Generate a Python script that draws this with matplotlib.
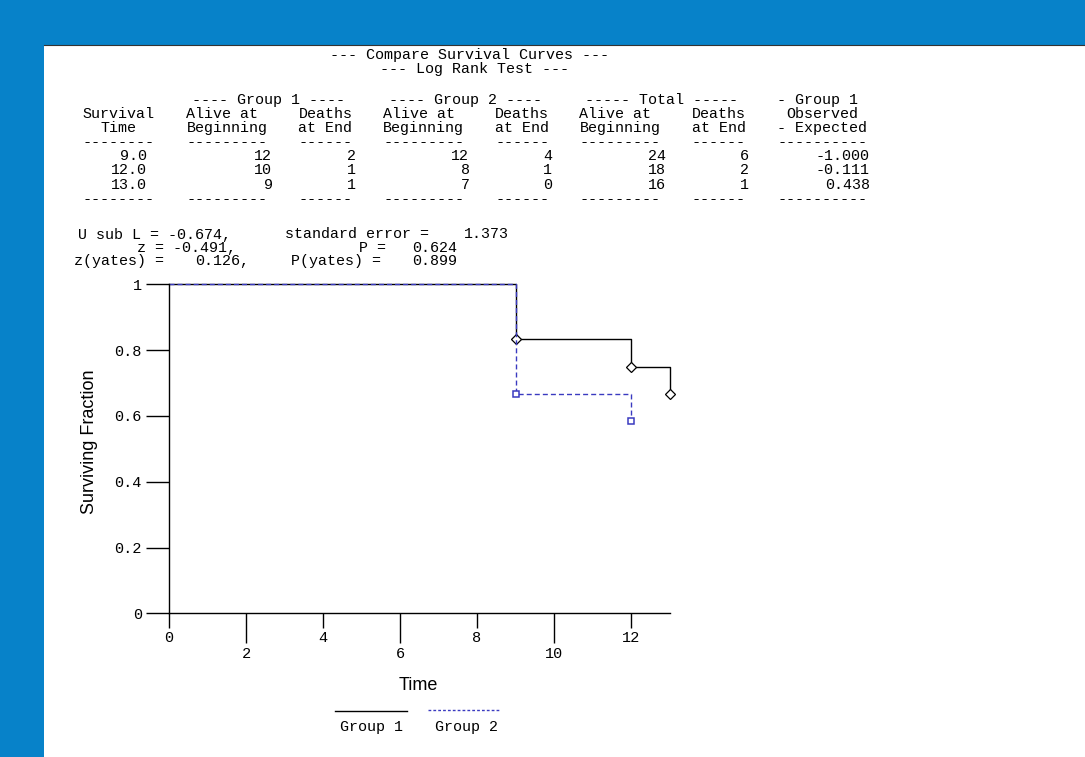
import re
import matplotlib
matplotlib.use("Agg")
import matplotlib.pyplot as plt
from matplotlib.patches import Rectangle
from matplotlib.lines import Line2D

# ---- data ----
surv_time = [9.0, 12.0, 13.0]
alive_g1 = [12, 10, 9]
deaths_g1 = [2, 1, 1]
alive_g2 = [12, 8, 7]
deaths_g2 = [4, 1, 0]
alive_tot = [24, 18, 16]
deaths_tot = [6, 2, 1]
obs_minus_exp = [-1.000, -0.111, 0.438]

u_sub_l = -0.674
std_err = 1.373
z_val = -0.491
p_val = 0.624
z_yates = 0.126
p_yates = 0.899

g1_time = [0, 9, 12, 13]
g1_surv = [1.0, 0.833, 0.750, 0.667]
g2_time = [0, 9, 12]
g2_surv = [1.0, 0.667, 0.583]

group_names = ["Group 1", "Group 2"]
x_major = [0, 4, 8, 12]
x_minor = [2, 6, 10]
y_ticks = [0, 0.2, 0.4, 0.6, 0.8, 1]
y_labels = ["0", "0.2", "0.4", "0.6", "0.8", "1"]

W, H = 1085, 757
BLUE_BG = "#0782c9"
G2_COLOR = "#3a3ac0"
MONO = "Liberation Mono"
MONO_SIZE = 10.8
CW = 10.35  # pixel width of one character cell in the printout

fig = plt.figure(figsize=(W / 100, H / 100), dpi=100)
fig.patch.set_facecolor(BLUE_BG)
fig.add_artist(Rectangle((44 / W, 0), 1 - 44 / W, 1 - 45 / H,
                         transform=fig.transFigure, facecolor="white",
                         edgecolor="none", zorder=0))
fig.add_artist(Line2D([44 / W, 1], [1 - 45 / H] * 2, transform=fig.transFigure,
                      color="#333333", lw=0.8, zorder=1))


def put(line, x0, y):
    # phrases (split on 2+ spaces) are centred on their cells of the printout grid
    for m in re.finditer(r"\S+(?: \S+)*", line):
        xc = x0 + (m.start() + len(m.group()) / 2) * CW
        fig.text(xc / W, 1 - y / H, m.group(), ha="center", va="baseline",
                 family=MONO, fontsize=MONO_SIZE, color="black")


# ---- text output above the plot ----
X0 = 77
put("--- Compare Survival Curves ---", 470 - 15.5 * CW, 59.5)
put("--- Log Rank Test ---", 475 - 10.5 * CW, 72.5)

dash = "--------  ---------  ------  ---------  ------  ---------  ------  ----------"
lines = [
    "          ---- Group 1 ----  ---- Group 2 ----  ----- Total -----  - Group 1",
    "Survival  Alive at   Deaths  Alive at   Deaths  Alive at   Deaths   Observed",
    "  Time    Beginning  at End  Beginning  at End  Beginning  at End  - Expected",
    dash,
]
for i in range(len(surv_time)):
    lines.append(f"{surv_time[i]:7.1f}   {alive_g1[i]:9d}  {deaths_g1[i]:6d}  "
                 f"{alive_g2[i]:9d}  {deaths_g2[i]:6d}  {alive_tot[i]:9d}  "
                 f"{deaths_tot[i]:6d}  {obs_minus_exp[i]:10.3f}")
lines.append(dash)
for i, ln in enumerate(lines):
    put(ln, X0, 104 + 14.1 * i)

stats = [
    f"U sub L = {u_sub_l:.3f},   standard error =  {std_err:.3f}",
    f"      z = {z_val:.3f},           P =  {p_val:.3f}",
    f"z(yates) =  {z_yates:.3f},   P(yates) =  {p_yates:.3f}",
]
for i, ln in enumerate(stats):
    put(ln, 67, 238.5 + 13.2 * i)

# ---- survival plot ----
ax = fig.add_axes([169 / W, (H - 613.3) / H, 500.5 / W, 329 / H])
ax.set_facecolor("none")
ax.step(g1_time, g1_surv, where="post", color="black", lw=1.0, clip_on=False)
ax.plot(g1_time[1:], g1_surv[1:], ls="none", marker="D", ms=4.6, mfc="white",
        mec="black", mew=0.9, clip_on=False)
ax.step(g2_time, g2_surv, where="post", color=G2_COLOR, lw=1.0,
        dashes=(3.6, 2.2), clip_on=False)
ax.plot(g2_time[1:], g2_surv[1:], ls="none", marker="s", ms=5, mfc="white",
        mec=G2_COLOR, mew=1.1, clip_on=False)

ax.set_xlim(0, 13)
ax.set_ylim(0, 1)
for s in ("top", "right"):
    ax.spines[s].set_visible(False)
for s in ("left", "bottom"):
    ax.spines[s].set_linewidth(1.0)

ax.set_xticks(x_major)
ax.set_xticks(x_minor, minor=True)
ax.set_xticklabels([str(v) for v in x_major])
ax.set_xticklabels([str(v) for v in x_minor], minor=True)
ax.tick_params(axis="x", which="major", direction="out", length=10.8, width=1.0,
               pad=2, labelsize=11)
ax.tick_params(axis="x", which="minor", direction="out", length=21.6, width=1.0,
               pad=2.5, labelsize=11)
ax.set_yticks(y_ticks)
ax.set_yticklabels(y_labels)
ax.tick_params(axis="y", direction="out", length=16.5, width=1.0, pad=3,
               labelsize=11)
for lab in ax.get_xticklabels(which="both") + ax.get_yticklabels():
    lab.set_family(MONO)

ax.set_ylabel("Surviving Fraction", family="Liberation Sans", fontsize=13)
ax.yaxis.set_label_coords((90 - 169) / 500.5, 0.52)
ax.yaxis.label.set_va("center")
ax.set_xlabel("Time", family="Liberation Sans", fontsize=13)
ax.xaxis.set_label_coords((418 - 169) / 500.5, -(685 - 613.3) / 329)
ax.xaxis.label.set_va("center")

# ---- legend below the plot ----
fig.add_artist(Line2D([335 / W, 407 / W], [1 - 711 / H] * 2,
                      transform=fig.transFigure, color="black", lw=1.0))
fig.add_artist(Line2D([428 / W, 500 / W], [1 - 710 / H] * 2,
                      transform=fig.transFigure, color=G2_COLOR, lw=1.0,
                      dashes=(2.0, 1.5)))
put(group_names[0], 335, 731)
put(group_names[1], 430, 731)

fig.savefig("out.png", dpi=100, facecolor=fig.get_facecolor())
